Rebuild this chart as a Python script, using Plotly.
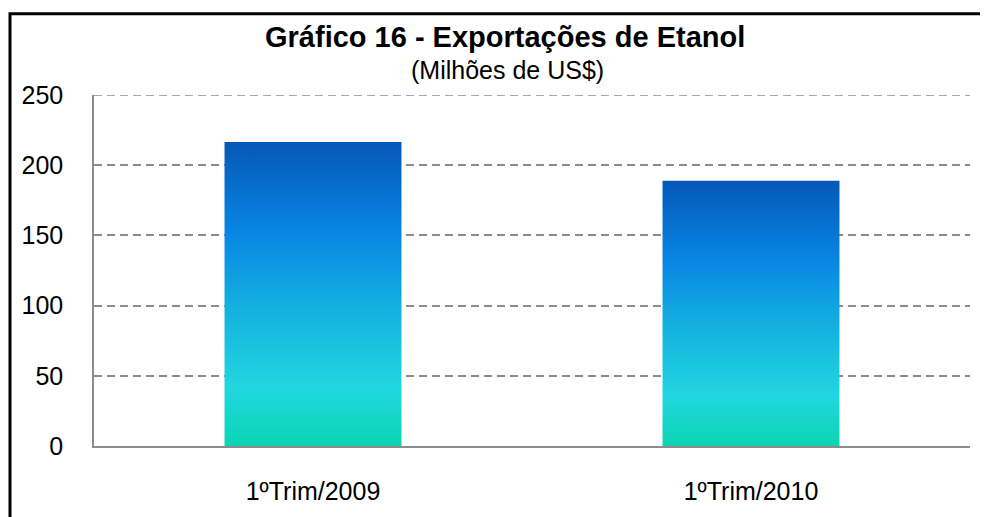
import plotly.graph_objects as go

# ---- data ----
categories = ["1ºTrim/2009", "1ºTrim/2010"]
values = [216.5, 189.0]
y_ticks = [0, 50, 100, 150, 200, 250]
title_text = "Gráfico 16 - Exportações de Etanol"
subtitle_text = "(Milhões de US$)"

# ---- layout geometry ----
# the page body adds an 8px margin, so figure coords = screen coords - 8
OFF = 8
W, H = 988 - OFF, 517 - OFF
PLOT_L, PLOT_R, PLOT_T, PLOT_B = 94, 970, 95, 449  # screen px
ML = PLOT_L - OFF
MT = PLOT_T - OFF
MR = W - (PLOT_R - OFF)
MB = H - (PLOT_B - OFF)
PW, PH = PLOT_R - PLOT_L, PLOT_B - PLOT_T


def px_x(x):
    return (x - PLOT_L) / PW


def px_y(y):
    return (PLOT_B - y) / PH


bar_width = 0.404
gradient = [
    [0.0, "#08d5b0"],
    [0.2, "#22d6e0"],
    [0.45, "#14b2e0"],
    [0.7, "#0887e4"],
    [1.0, "#0558b8"],
]
grid_color = "#8c8c8c"

fig = go.Figure()
for i, (cat, v) in enumerate(zip(categories, values)):
    x0, x1 = i - bar_width / 2, i + bar_width / 2
    fig.add_trace(go.Scatter(
        x=[x0, x1, x1, x0, x0],
        y=[0, 0, v, v, 0],
        mode="lines",
        line=dict(width=0, color="rgba(0,0,0,0)"),
        fill="toself",
        fillgradient=dict(type="vertical", colorscale=gradient, start=0, stop=v),
        name=cat,
        hoverinfo="text",
        text=f"{cat}: {v}",
        showlegend=False,
    ))

font_family = "Arial, 'Liberation Sans', sans-serif"

fig.update_layout(
    width=W, height=H,
    margin=dict(l=ML, r=MR, t=MT, b=MB, pad=0),
    paper_bgcolor="white",
    plot_bgcolor="white",
    font=dict(family=font_family, color="black", size=25),
    xaxis=dict(
        range=[-0.5, 1.5],
        tickvals=list(range(len(categories))),
        ticktext=categories,
        showgrid=False,
        zeroline=False,
        showline=True,
        linecolor=grid_color,
        linewidth=2,
        ticks="",
        ticklabelstandoff=22,
        tickfont=dict(size=25),
        fixedrange=True,
    ),
    yaxis=dict(
        range=[0, 250],
        tickvals=y_ticks,
        showgrid=True,
        gridcolor=grid_color,
        gridwidth=1.5,
        griddash="8px,5px",
        zeroline=False,
        showline=True,
        linecolor=grid_color,
        linewidth=1.5,
        ticks="",
        ticklabelstandoff=24,
        tickfont=dict(size=25),
        fixedrange=True,
    ),
    shapes=[
        # top gridline (plotly skips the gridline lying on the plot edge)
        dict(type="line", xref="paper", yref="y", x0=0, x1=1,
             y0=y_ticks[-1], y1=y_ticks[-1],
             line=dict(color=grid_color, width=1.5, dash="8px,5px"),
             layer="below"),
        dict(type="rect", xref="paper", yref="paper",
             x0=px_x(10), x1=px_x(1010), y0=px_y(540), y1=px_y(13),
             line=dict(color="black", width=3), fillcolor="rgba(0,0,0,0)",
             layer="above"),
    ],
    annotations=[
        dict(text=f"<b>{title_text}</b>", xref="paper", yref="paper",
             x=px_x(505), y=px_y(37), xanchor="center", yanchor="middle",
             showarrow=False, font=dict(size=29, family=font_family, color="black")),
        dict(text=subtitle_text, xref="paper", yref="paper",
             x=px_x(507), y=px_y(70), xanchor="center", yanchor="middle",
             showarrow=False, font=dict(size=25, family=font_family, color="black")),
    ],
)

fig.write_html("out.html")
